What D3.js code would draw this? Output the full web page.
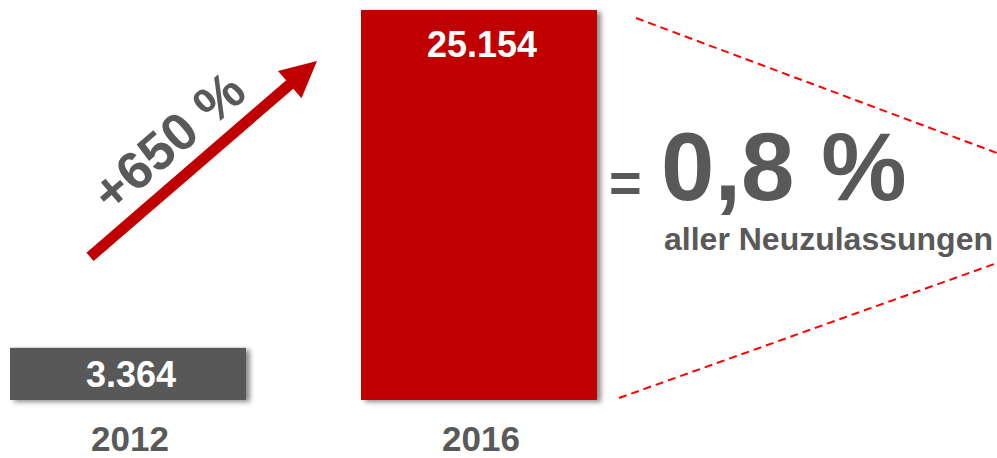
<!DOCTYPE html>
<html>
<head>
<meta charset="utf-8">
<script src="https://cdn.jsdelivr.net/npm/d3@7"></script>
<style>
  html, body { margin: 0; padding: 0; background: #fff; }
  svg text { font-family: "Liberation Sans", Arial, sans-serif; font-weight: bold; }
</style>
</head>
<body>
<div id="chart"></div>
<script>
// data
var years = ["2012", "2016"];
var values = [3364, 25154];
var valueLabels = ["3.364", "25.154"];
var growthLabel = "+650 %";
var shareLabel = "0,8 %";
var shareCaption = "aller Neuzulassungen";

var width = 997, height = 458;
var grey = "#595959", red = "#c00000";
var barColors = [grey, red];

var svg = d3.select("#chart").append("svg")
  .attr("width", width)
  .attr("height", height);

var defs = svg.append("defs");
var shadow = defs.append("filter")
  .attr("id", "shadow")
  .attr("x", "-10%").attr("y", "-10%")
  .attr("width", "130%").attr("height", "130%");
shadow.append("feDropShadow")
  .attr("dx", 4).attr("dy", 2)
  .attr("stdDeviation", 2.5)
  .attr("flood-color", "#000")
  .attr("flood-opacity", 0.45);

/* scales */
var x = d3.scaleBand()
  .domain(years)
  .range([10, 597])
  .paddingInner(0.3276)
  .paddingOuter(0);

var y = d3.scaleLinear()
  .domain([0, d3.max(values)])
  .range([400, 10]);

/* bars */
svg.selectAll(".bar")
  .data(values)
  .enter().append("rect")
  .attr("class", "bar")
  .attr("x", (d, i) => x(years[i]))
  .attr("y", d => y(d))
  .attr("width", x.bandwidth())
  .attr("height", d => y(0) - y(d))
  .attr("fill", (d, i) => barColors[i])
  .attr("filter", "url(#shadow)");

/* value labels */
svg.selectAll(".val")
  .data(values)
  .enter().append("text")
  .attr("class", "val")
  .attr("x", (d, i) => x(years[i]) + x.bandwidth() / 2 + 3)
  .attr("y", d => y(d) + Math.min((y(0) - y(d)) / 2 + 13, 47))
  .attr("text-anchor", "middle")
  .attr("font-size", 36)
  .attr("fill", "#fff")
  .text((d, i) => valueLabels[i]);

/* year labels */
var xAxis = d3.axisBottom(x).tickSize(0).tickPadding(0);
var axisG = svg.append("g")
  .attr("transform", "translate(2, 420)")
  .call(xAxis);
axisG.select(".domain").remove();
axisG.selectAll("text")
  .attr("font-size", 35)
  .attr("font-family", null)
  .attr("fill", grey)
  .attr("dy", "0.88em");

/* growth arrow */
var x0 = x(years[0]) + 80, y0 = y(values[0]) - 91;
var x1 = x(years[1]) - 44, y1 = y(values[1]) + 51;
var ang = Math.atan2(y1 - y0, x1 - x0);
var len = Math.hypot(x1 - x0, y1 - y0);
var shaftW = 11, headL = 36, headW = 36;

var arrow = svg.append("g")
  .attr("transform", `translate(${x0},${y0}) rotate(${ang * 180 / Math.PI})`);
arrow.append("path")
  .attr("d", d3.line()([
    [0, -shaftW / 2], [len - headL, -shaftW / 2], [len - headL, -headW / 2],
    [len, 0],
    [len - headL, headW / 2], [len - headL, shaftW / 2], [0, shaftW / 2]
  ]) + "Z")
  .attr("fill", red);
arrow.append("text")
  .attr("x", len * 0.45)
  .attr("y", -18)
  .attr("text-anchor", "middle")
  .attr("font-size", 53)
  .attr("fill", grey)
  .text(growthLabel);

/* zoom lines */
var topBar = y(values[1]);
var rightBar = x(years[1]) + x.bandwidth();
var dashLines = [
  [[rightBar + 39, topBar + 8], [width, topBar + 143]],
  [[rightBar + 22, y(0) - 2], [width, y(0) - 137]]
];
svg.selectAll(".dash")
  .data(dashLines)
  .enter().append("path")
  .attr("class", "dash")
  .attr("d", d => d3.line()(d))
  .attr("stroke", "#ff0000")
  .attr("stroke-width", 2)
  .attr("stroke-dasharray", "8,5")
  .attr("fill", "none");

/* share text */
svg.append("text")
  .attr("x", 609)
  .attr("y", 202)
  .attr("font-size", 56)
  .attr("fill", grey)
  .text("=");

svg.append("text")
  .attr("x", 661)
  .attr("y", 200)
  .attr("font-size", 96)
  .attr("fill", grey)
  .text(shareLabel);

svg.append("text")
  .attr("x", 664)
  .attr("y", 250)
  .attr("font-size", 32)
  .attr("fill", grey)
  .text(shareCaption);
</script>
</body>
</html>
